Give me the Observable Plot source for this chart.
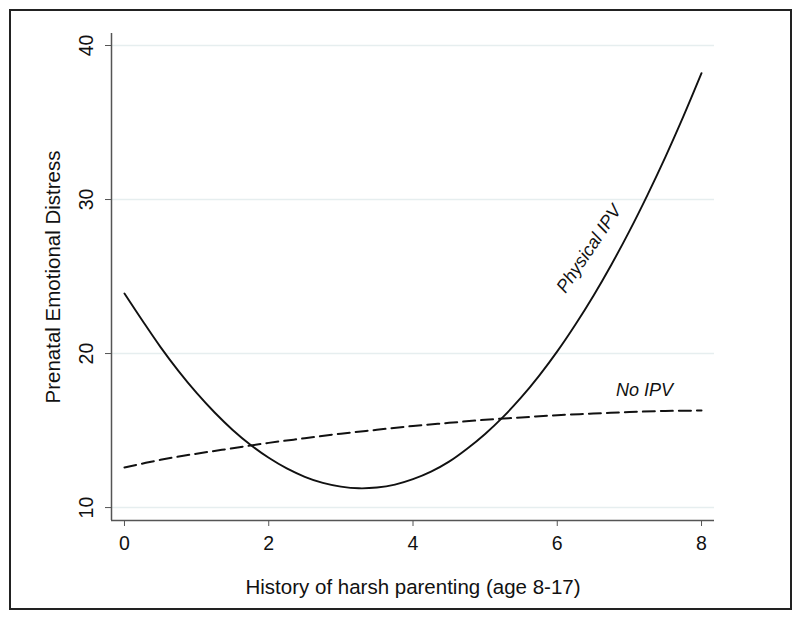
<!DOCTYPE html>
<html>
<head>
<meta charset="utf-8">
<script src="https://cdn.jsdelivr.net/npm/d3@7"></script>
<script src="https://cdn.jsdelivr.net/npm/@observablehq/plot@0.6"></script>
<style>
  html, body { margin: 0; padding: 0; background: #fff; }
  #wrap { position: relative; width: 800px; height: 620px; }
  #frame { position: absolute; left: 9px; top: 9px; width: 779px; height: 597px; border: 2px solid #222; pointer-events: none; }
  #wrap svg g[aria-label$="tick label"] text { font-size: 19.5px; }
  #wrap svg g[aria-label="x-axis label"] text, #wrap svg g[aria-label="y-axis label"] text { font-size: 20.5px; }
</style>
</head>
<body>
<div id="wrap"><div id="frame"></div></div>
<script>
// Data
const xPhys = [0, 0.25, 0.5, 0.75, 1, 1.25, 1.5, 1.75, 2, 2.25, 2.5, 2.75, 3, 3.25, 3.5, 3.75, 4, 4.25, 4.5, 4.75, 5, 5.25, 5.5, 5.75, 6, 6.25, 6.5, 6.75, 7, 7.25, 7.5, 7.75, 8];
const yPhys = [23.9, 22.13, 20.42, 18.86, 17.44, 16.17, 15.04, 14.06, 13.23, 12.54, 12.0, 11.6, 11.36, 11.25, 11.3, 11.49, 11.84, 12.33, 12.98, 13.82, 14.78, 15.89, 17.15, 18.57, 20.14, 21.87, 23.74, 25.77, 27.95, 30.29, 32.77, 35.41, 38.2];
const xNo = [0, 0.5, 1, 1.5, 2, 2.5, 3, 3.5, 4, 4.5, 5, 5.5, 6, 6.5, 7, 7.5, 8];
const yNo = [12.6, 13.1, 13.5, 13.85, 14.2, 14.5, 14.8, 15.05, 15.3, 15.5, 15.7, 15.85, 16.0, 16.1, 16.2, 16.27, 16.3];
const xTicks = [0, 2, 4, 6, 8];
const yTicks = [10, 20, 30, 40];
const seriesLabels = ["Physical IPV", "No IPV"];
const labelX = [6.44, 7.21];
const labelY = [26.8, 17.6];
const xTitle = "History of harsh parenting (age 8-17)";
const yTitle = "Prenatal Emotional Distress";

const phys = xPhys.map((x, i) => ({x, y: yPhys[i]}));
const none = xNo.map((x, i) => ({x, y: yNo[i]}));
const xDom = [-0.18, 8.18];
const yDom = [9.16, 40.78];

const chart = Plot.plot({
  width: 800,
  height: 620,
  marginLeft: 111,
  marginRight: 86,
  marginTop: 33,
  marginBottom: 100,
  style: {fontFamily: "'Liberation Sans', Arial, sans-serif", fontSize: "18px", color: "#111", background: "transparent"},
  x: {domain: xDom},
  y: {domain: yDom},
  marks: [
    Plot.gridY(yTicks, {stroke: "#e6eeef", strokeOpacity: 1, strokeWidth: 1.5}),
    Plot.axisX(xTicks, {tickSize: 6, tickPadding: 10, stroke: "#555", fill: "#111", label: xTitle, labelAnchor: "center", labelOffset: 73, labelArrow: "none"}),
    Plot.axisY(yTicks, {tickSize: 6, tickPadding: 13, tickRotate: -90, stroke: "#555", fill: "#111", label: yTitle, labelAnchor: "center", labelOffset: 66, labelArrow: "none"}),
    Plot.ruleX([xDom[0]], {y1: yDom[0], y2: yDom[1], stroke: "#555", strokeWidth: 1.5}),
    Plot.ruleY([yDom[0]], {x1: xDom[0], x2: xDom[1], stroke: "#555", strokeWidth: 1.5}),
    Plot.line(none, {x: "x", y: "y", stroke: "#111", strokeWidth: 2, strokeDasharray: "12 6", curve: "catmull-rom"}),
    Plot.line(phys, {x: "x", y: "y", stroke: "#111", strokeWidth: 1.9, curve: "catmull-rom"}),
    Plot.text([0], {x: labelX[0], y: labelY[0], text: () => seriesLabels[0], rotate: -56, fontStyle: "italic", fontSize: 18, fill: "#111"}),
    Plot.text([1], {x: labelX[1], y: labelY[1], text: () => seriesLabels[1], fontStyle: "italic", fontSize: 18, fill: "#111"})
  ]
});
document.getElementById("wrap").prepend(chart);
</script>
</body>
</html>
